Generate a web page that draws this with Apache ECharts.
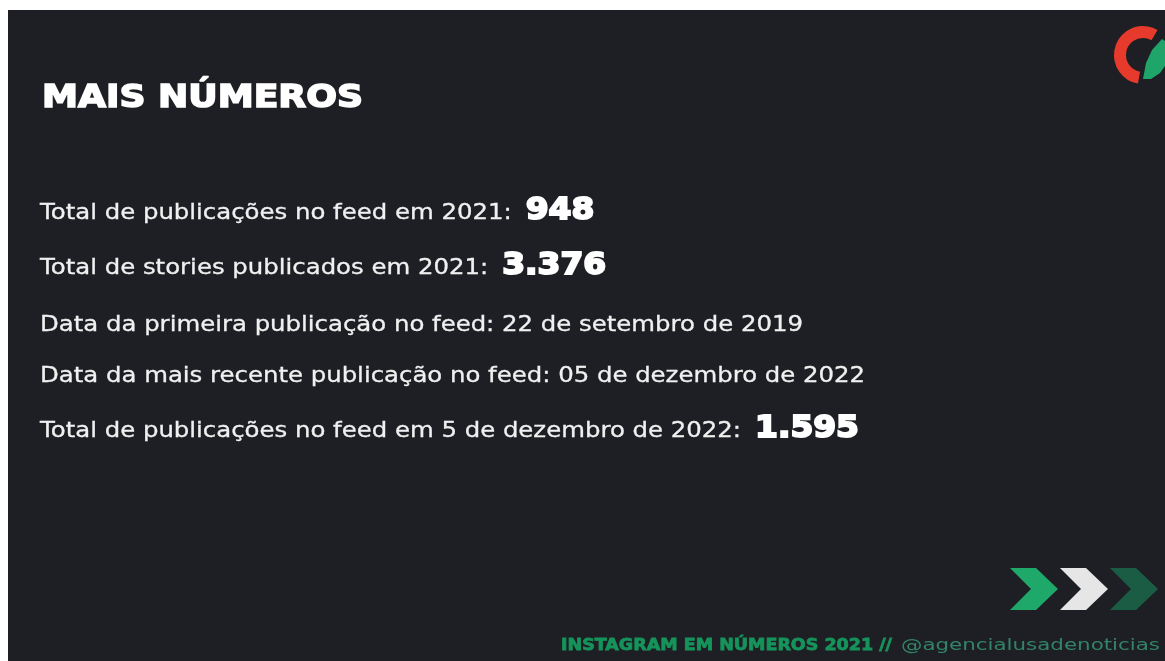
<!DOCTYPE html>
<html>
<head>
<meta charset="utf-8">
<script src="https://cdn.jsdelivr.net/npm/echarts@6/dist/echarts.min.js"></script>
<style>
  html, body { margin: 0; padding: 0; background: #ffffff; }
  #chart { width: 1165px; height: 661px; }
</style>
</head>
<body>
<div id="chart"></div>
<script>
// textos do slide
var titleText = 'MAIS NÚMEROS'
var lineLabels = [
  'Total de publicações no feed em 2021:',
  'Total de stories publicados em 2021:',
  'Data da primeira publicação no feed: 22 de setembro de 2019',
  'Data da mais recente publicação no feed: 05 de dezembro de 2022',
  'Total de publicações no feed em 5 de dezembro de 2022:'
]
var lineValues = ['948', '3.376', '', '', '1.595']
var footerMain = 'INSTAGRAM EM NÚMEROS 2021 //'
var footerHandle = '@agencialusadenoticias'

// layout
var lineBaselines = [220, 275, 332, 383, 438]
var labelFont = '21px "DejaVu Sans", sans-serif'
var valueFont = 'bold 31px "DejaVu Sans", sans-serif'
var titleFont = 'bold 32px "DejaVu Sans", sans-serif'
var footFontMain = 'bold 16px "DejaVu Sans", sans-serif'
var footFontHandle = '16px "DejaVu Sans", sans-serif'

var ctx = document.createElement('canvas').getContext('2d')
function measure (text, font) {
  ctx.font = font
  return ctx.measureText(text).width
}

var dom = document.getElementById('chart')
var chart = echarts.init(dom)

var elements = []

// fundo escuro (com a borda branca do print)
elements.push({
  type: 'rect',
  shape: { x: 8, y: 10, width: 1157, height: 651 },
  style: { fill: '#1d1f24' }
})

// texto esticado na horizontal ate a largura alvo
function stretchText (text, font, x, baseline, width, color, size, heavy) {
  var sx = width / measure(text, font)
  var style = { text: text, font: font, fill: color, verticalAlign: 'middle', align: 'left' }
  if (heavy) {
    style.stroke = color
    style.lineWidth = heavy
  }
  return {
    type: 'text',
    x: x,
    y: baseline - size * 0.3,
    scaleX: sx,
    style: style
  }
}

// titulo
elements.push(stretchText(titleText, titleFont, 42, 108, 321, '#ffffff', 32, 1.6))

// linhas de numeros (escala horizontal comum, pela linha 3)
var bodyScale = 763 / measure(lineLabels[2], labelFont)
for (var i = 0; i < lineLabels.length; i++) {
  var w = measure(lineLabels[i], labelFont) * bodyScale
  elements.push(stretchText(lineLabels[i], labelFont, 40, lineBaselines[i], w, '#f0f0f0', 21, 0.3))
  if (lineValues[i]) {
    var vw = measure(lineValues[i], valueFont) * 1.06
    elements.push(stretchText(lineValues[i], valueFont, 40 + w + 14, lineBaselines[i], vw, '#ffffff', 31, 2))
  }
}

// logo (arco vermelho + meia lua verde)
elements.push({
  type: 'arc',
  shape: { cx: 1143, cy: 55, r: 23, startAngle: Math.PI * 100 / 180, endAngle: Math.PI * 300 / 180, clockwise: true },
  style: { stroke: '#e63a2c', lineWidth: 12, fill: null }
})
elements.push({
  type: 'polygon',
  smooth: 0.3,
  shape: { points: [[1162, 39], [1152, 50], [1146, 63], [1143, 79], [1151, 79], [1160, 73], [1165, 66], [1165, 41]] },
  style: { fill: '#1fa46a' }
})

// setas
var chevronColors = ['#1ea96a', '#e6e6e6', '#1b5d44']
for (var k = 0; k < 3; k++) {
  var x0 = 1010 + k * 50
  elements.push({
    type: 'polygon',
    shape: {
      points: [[x0, 568], [x0 + 26, 568], [x0 + 48, 589], [x0 + 26, 610], [x0, 610], [x0 + 21, 589]]
    },
    style: { fill: chevronColors[k] }
  })
}

// rodape
elements.push(stretchText(footerMain, footFontMain, 561, 651, 331, '#16935b', 16, 0.8))
elements.push(stretchText(footerHandle, footFontHandle, 901, 651, 259, '#338466', 16))

var option = {
  backgroundColor: '#ffffff',
  graphic: { elements: elements }
}
chart.setOption(option)
window.addEventListener('resize', function () { chart.resize() })
</script>
</body>
</html>
